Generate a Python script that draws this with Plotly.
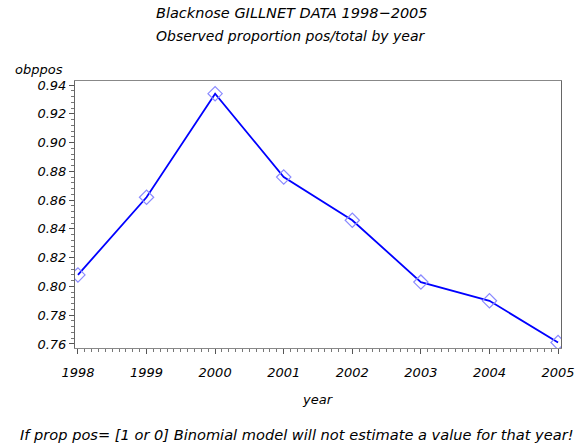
import plotly.graph_objects as go

years = [1998, 1999, 2000, 2001, 2002, 2003, 2004, 2005]
obppos = [0.808, 0.862, 0.934, 0.876, 0.846, 0.803, 0.790, 0.761]
y_ticks = [0.76, 0.78, 0.80, 0.82, 0.84, 0.86, 0.88, 0.90, 0.92, 0.94]

FONT = "DejaVu Sans, Verdana, sans-serif"
tfont = dict(family=FONT, size=13, color="black", style="italic")
hfont = dict(family=FONT, size=14, color="black", style="italic")

fig = go.Figure()
fig.add_trace(go.Scatter(
    x=years, y=obppos, mode="lines+markers",
    line=dict(color="#0000ff", width=1.8),
    marker=dict(symbol="diamond-open", size=11, color="#8a8aff", line=dict(width=1.2, color="#8a8aff")),
    showlegend=False,
))

W, H = 587, 446
L, R, T, B = 75, 15, 81, 98
pw = W - L - R
ph = H - T - B

def py(p):
    return (H - B - p) / ph

def px(p):
    return (p - L) / pw

fig.update_layout(
    width=W, height=H,
    margin=dict(l=L, r=R, t=T, b=B, pad=0),
    paper_bgcolor="white", plot_bgcolor="white",
    font=tfont,
    xaxis=dict(
        range=[1997.957, 2005.043], tickmode="array", tickvals=years,
        ticktext=[str(y) for y in years],
        ticks="outside", ticklen=5, tickcolor="#555", tickwidth=1,
        showline=True, linecolor="#888", linewidth=1, mirror=True,
        showgrid=False, zeroline=False, tickfont=tfont, ticklabelstandoff=7,
        minor=dict(dtick=0.1, tick0=1998, ticks="outside", ticklen=3, tickcolor="#777", showgrid=False),
    ),
    yaxis=dict(
        range=[0.7572, 0.9428], tickmode="array", tickvals=y_ticks,
        ticktext=[f"{v:.2f}" for v in y_ticks],
        ticks="outside", ticklen=5, tickcolor="#555", tickwidth=1,
        showline=True, linecolor="#666", linewidth=1, mirror=True,
        showgrid=False, zeroline=False, tickfont=tfont,
        minor=dict(dtick=0.004, tick0=0.76, ticks="outside", ticklen=3, tickcolor="#777", showgrid=False),
    ),
    annotations=[
        dict(text="Blacknose GILLNET DATA 1998\u22122005", x=px(297), y=py(13), xref="paper", yref="paper",
             showarrow=False, font=dict(family=FONT, size=14.5, color="black", style="italic"),
             xanchor="center", yanchor="middle"),
        dict(text="Observed proportion pos/total by year", x=px(296), y=py(36), xref="paper", yref="paper",
             showarrow=False, font=hfont, xanchor="center", yanchor="middle"),
        dict(text="obppos", x=px(12), y=py(70), xref="paper", yref="paper",
             showarrow=False, font=tfont, xanchor="left", yanchor="middle"),
        dict(text="year", x=px(323), y=py(399), xref="paper", yref="paper",
             showarrow=False, font=tfont, xanchor="center", yanchor="middle"),
        dict(text="If prop pos= [1 or 0] Binomial model will not estimate a value for that year!",
             x=px(302), y=py(434), xref="paper", yref="paper",
             showarrow=False, font=dict(family=FONT, size=14.6, color="black", style="italic"),
             xanchor="center", yanchor="middle"),
    ],
)

fig.write_html("out.html")
